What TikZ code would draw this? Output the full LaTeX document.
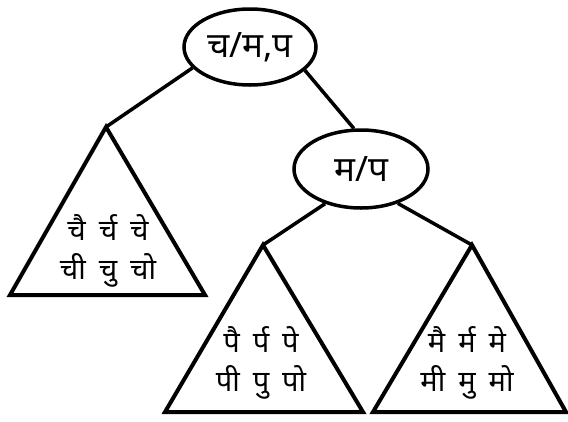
\documentclass[tikz,border=0pt]{standalone}
\usepackage{fontspec}
\newfontfamily\deva[Script=Devanagari]{Noto Sans}
\usetikzlibrary{shapes.geometric}
\newcommand{\gp}{\hspace{13pt}}
\begin{document}
\begin{tikzpicture}[x=1pt,y=-1pt, line width=3.5pt,
  oval/.style={ellipse, draw, inner sep=0pt, font=\deva\fontsize{35}{38}\selectfont},
  leaves/.style={font=\deva\fontsize{29}{39}\selectfont, align=center, inner sep=0pt},
  tri/.style={line width=4pt, line join=miter}]
\useasboundingbox (0,0) rectangle (568,421);
\fill[white] (0,0) rectangle (568,421);
% internal nodes
\node[oval, minimum width=132pt, minimum height=76pt] (root) at (250,47) {च/म,प};
\node[oval, minimum width=134pt, minimum height=78pt] (mp) at (361,169) {म/प};
% triangle apexes
\coordinate (aL) at (106,127);
\coordinate (aML) at (263,245);
\coordinate (aMR) at (472,245);
% triangles
\draw[tri] (aL) -- (10,295) -- (205,295) -- cycle;
\draw[tri] (aML) -- (165,412) -- (363,412) -- cycle;
\draw[tri] (aMR) -- (373,412) -- (566,412) -- cycle;
% leaf contents
\node[leaves] (tL) at (108,251) {चै\gp र्च\gp चे\\ ची\gp चु\gp चो};
\node[leaves] (tML) at (261,363) {पै\gp र्प\gp पे\\ पी\gp पु\gp पो};
\node[leaves] (tMR) at (467,363) {मै\gp र्म\gp मे\\ मी\gp मु\gp मो};
% connectors
\draw (root.200) -- (aL);
\draw (root.-23) -- (mp.100);
\draw (mp.224) -- (aML);
\draw (mp.-43) -- (aMR);
\end{tikzpicture}
\end{document}
